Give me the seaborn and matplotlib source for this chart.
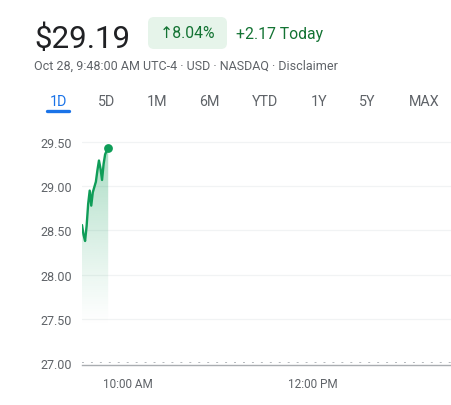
import matplotlib
matplotlib.use("Agg")
import matplotlib.pyplot as plt
import seaborn as sns
import numpy as np
import pandas as pd
from matplotlib.patches import FancyBboxPatch
from matplotlib.lines import Line2D
from matplotlib.colors import to_rgb

# ---- data ----
minutes = [0, 1, 2, 3, 4, 5, 6, 7, 8, 9, 10, 11, 12, 13, 14, 15, 16, 17]
prices = [28.56, 28.45, 28.38, 28.55, 28.80, 28.95, 28.78, 28.93, 28.99,
          29.05, 29.18, 29.29, 29.20, 29.07, 29.25, 29.36, 29.40, 29.43]
y_ticks = [27.0, 27.5, 28.0, 28.5, 29.0, 29.5]
y_tick_labels = ["27.00", "27.50", "28.00", "28.50", "29.00", "29.50"]
x_ticks = [30, 150]
x_tick_labels = ["10:00 AM", "12:00 PM"]
tabs = ["1D", "5D", "1M", "6M", "YTD", "1Y", "5Y", "MAX"]
price_text = "$29.19"
change_pct = "↑8.04%"
change_abs = "+2.17 Today"
subtitle = "Oct 28, 9:48:00 AM UTC-4 · USD · NASDAQ · Disclaimer"

GREEN = "#0f9d58"
TEXT_GREEN = "#137333"
GRAY = "#5f6368"
W, H = 452, 406

sns.set_theme(style="white")
plt.rcParams['font.family'] = ['Roboto', 'DejaVu Sans']

fig = plt.figure(figsize=(W / 100, H / 100), dpi=100)
fig.patch.set_facecolor("white")

def fx(px):
    return px / W

def fy(py):
    return 1 - py / H

# ---- chart axes ----
ymin, ymax = 27.0, 29.65
ax = fig.add_axes([fx(82), (H - 364) / H, (W - 82) / W, (364 - 129.7) / H])
ax.set_facecolor("white")

df = pd.DataFrame({"minute": minutes, "price": prices})

for v in y_ticks[1:]:
    ax.axhline(v, color="#f1f3f4", lw=0.9, zorder=0)

# gradient fill under line
poly = ax.fill_between(minutes, prices, ymin, color="none", lw=0)
n = 256
yy = np.linspace(ymin, max(prices), n)
alpha = np.clip((yy - 27.4) / (max(prices) - 27.4), 0, 1) ** 1.2 * 0.36
rgba = np.zeros((n, 1, 4))
rgba[..., :3] = to_rgb(GREEN)
rgba[:, 0, 3] = alpha
im = ax.imshow(rgba, extent=[min(minutes), max(minutes), ymin, max(prices)],
               origin="lower", aspect="auto", zorder=1, interpolation="bilinear")
im.set_clip_path(poly.get_paths()[0], transform=ax.transData)

sns.lineplot(data=df, x="minute", y="price", ax=ax, color=GREEN, linewidth=1.7, zorder=3)
ax.scatter([minutes[-1]], [prices[-1]], s=40, color=GREEN, zorder=4, linewidths=0)

# dotted baseline
ax.axhline(ymin, color="#b5b9bd", lw=1.4, linestyle=(0, (1, 3.6)),
           dash_capstyle="butt", zorder=2)

ax.set_xlim(0, 240)
ax.set_ylim(ymin, ymax)
ax.set_xlabel("")
ax.set_ylabel("")
ax.set_yticks(y_ticks)
ax.set_yticklabels(y_tick_labels)
ax.set_xticks(x_ticks)
ax.set_xticklabels(x_tick_labels)
ax.tick_params(axis="y", length=0, pad=7.5, labelsize=9, labelcolor=GRAY)
ax.tick_params(axis="x", length=3, width=1.5, color="#70757a", pad=5.5,
               labelsize=8.5, labelcolor=GRAY, direction="out")
for s in ["left", "top", "right"]:
    ax.spines[s].set_visible(False)
ax.spines["bottom"].set_color("#a9adb1")
ax.spines["bottom"].set_linewidth(1.0)
ax.spines["bottom"].set_position(("outward", 1.6))

# ---- header ----
fig.text(fx(34), fy(48), price_text, fontsize=22.6, color="#202124", va="baseline", ha="left")

badge = FancyBboxPatch((1.48, (H - 50) / 100), 0.79, 0.32,
                       boxstyle="round,pad=0,rounding_size=0.06",
                       transform=fig.dpi_scale_trans, facecolor="#e6f4ea",
                       edgecolor="none")
fig.patches.append(badge)
fig.text(fx(188), fy(34), change_pct, fontsize=11.3, color=TEXT_GREEN, va="center", ha="center")
fig.text(fx(236), fy(34), change_abs, fontsize=11.3, color=TEXT_GREEN, va="center", ha="left")
fig.text(fx(34), fy(66), subtitle, fontsize=9.0, color=GRAY, va="center", ha="left")

tab_x = [58, 107, 157, 209, 265, 319, 367, 424]
for name, x in zip(tabs, tab_x):
    fig.text(fx(x), fy(102), name, fontsize=10.3, va="center", ha="center",
             color="#1a73e8" if name == "1D" else GRAY)
fig.lines.append(Line2D([fx(47), fx(69)], [fy(112), fy(112)], transform=fig.transFigure,
                        color="#1a73e8", lw=2.4, solid_capstyle="round"))

fig.savefig("out.png", dpi=100)
